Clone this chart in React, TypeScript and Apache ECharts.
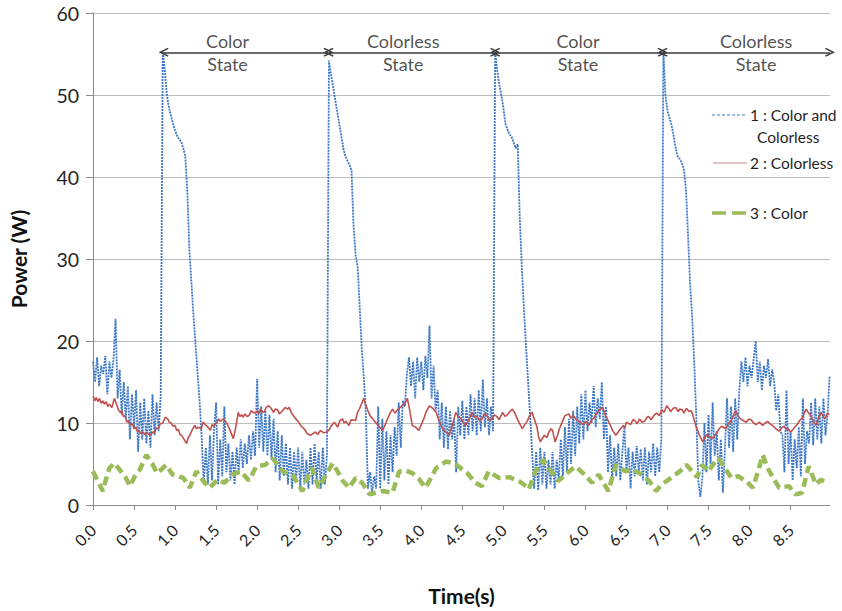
import React, { useEffect, useRef } from "react";
import * as echarts from "echarts";

// Sampling step (s) of series 1
const timeStep = 0.025;

// 1 : Color and Colorless (W), one value every timeStep seconds from t = 0
const colorAndColorless = [
  17.5, 15, 18, 14.5, 17, 16, 18.2, 13.5, 17.5, 15.5,
  17.8, 22.7, 13, 16.5, 11, 15, 10.5, 14.5, 8, 13.5,
  9.5, 14, 6.5, 12.5, 8, 13, 7.5, 11.5, 7, 13.5,
  8.5, 12.5, 9, 13.3, 55.3, 53, 50, 48.5, 47.5, 46.5,
  45.7, 45, 44.6, 44.3, 43.5, 42.5, 38, 31, 27, 23,
  19.5, 16, 12.5, 8, 2.5, 7, 2.5, 8.5, 3, 9,
  12.5, 2.5, 8, 3.5, 12, 4, 7.5, 3, 6.5, 2.5,
  7, 4, 8, 4.5, 7.5, 5, 8.5, 5.5, 9, 6,
  15.4, 7, 12, 6.5, 11.5, 6, 11, 5.5, 10.5, 4,
  9, 3, 8.5, 3.5, 7.5, 2.5, 7, 2, 6.5, 3,
  7, 2, 6.5, 2.5, 5.5, 2, 7, 2.5, 7.5, 3,
  6.5, 2, 7, 2.5, 6, 54.2, 52.5, 51, 49.5, 48,
  46.5, 45, 43.5, 42.5, 42, 41.5, 40.8, 34, 30.5, 29,
  24, 19, 15.5, 11, 2, 4, 1.5, 3.5, 2, 12,
  2, 10.5, 3, 9, 2.5, 8.5, 4, 9.5, 6, 12.5,
  7, 12.7, 12, 16, 18, 14.5, 17.5, 13, 18, 15,
  17.5, 14, 18.2, 15.5, 21.9, 13, 17, 11.5, 14, 8,
  12.5, 7, 12, 6.8, 11.5, 8, 10.5, 4, 12, 8.5,
  12.7, 8, 12, 8.5, 13.5, 9, 13, 8.5, 14, 9,
  15.3, 9.5, 13, 8.5, 12, 9, 55.3, 53, 51.3, 50,
  48.5, 46.5, 45.8, 45.2, 44.9, 44.2, 43.5, 44, 35, 29,
  24, 19.5, 15.3, 11, 6.5, 2, 6.5, 1.8, 7, 2.5,
  6.5, 2, 5.5, 2.5, 6.5, 2, 5.5, 3, 8, 3.5,
  9.5, 4, 10.5, 5, 11.5, 6, 12, 7.5, 13.5, 8,
  14, 9, 12.5, 10, 14.5, 9.5, 13, 10.5, 15, 8,
  12, 4, 8.5, 3, 7, 3.5, 7.5, 3, 6.5, 9.5,
  4, 7, 2, 6.5, 3.5, 7.2, 4, 6.8, 3, 7,
  2.5, 6.5, 4, 7.5, 3.5, 7, 4, 8, 55.3, 50,
  48, 47.2, 46.3, 45, 43.5, 42.5, 42.2, 41.7, 40.9, 38.5,
  33, 27, 23, 17.5, 11, 3, 1, 3.3, 10, 4,
  11, 5, 12.5, 6, 9, 3, 8, 1.5, 7, 13,
  7, 12, 6.5, 13, 8, 14, 17.5, 15, 18, 14.5,
  17, 15.5, 17.8, 20, 15, 17.5, 14, 17, 15.5, 17.8,
  14.5, 16.5, 15, 11.5, 13.5, 9, 8.5, 4, 14, 5,
  9, 3, 8, 4.5, 9.5, 3.5, 13, 5, 9, 7.5,
  12.5, 7.3, 13, 8, 12, 7.5, 13, 8.5, 11, 15.7,
];

// 2 : Colorless  [time (s), power (W)]
const colorless: [number, number][] = [
  [0.0, 13.3], [0.02, 12.7], [0.04, 13.1], [0.06, 12.6], [0.08, 13], [0.1, 12.4], [0.12, 12.7], [0.14, 12.3],
  [0.16, 12.6], [0.18, 12], [0.2, 12.3], [0.23, 11.9], [0.26, 13], [0.29, 12.2], [0.31, 11.6], [0.33, 11.3],
  [0.35, 11.5], [0.37, 10.8], [0.39, 10.9], [0.41, 10.1], [0.43, 10.3], [0.45, 9.8], [0.48, 9.9], [0.5, 9.3],
  [0.52, 9.5], [0.54, 9], [0.56, 9.1], [0.58, 8.7], [0.61, 8.9], [0.63, 8.6], [0.66, 8.8], [0.7, 8.5],
  [0.73, 8.9], [0.75, 8.8], [0.77, 9.4], [0.79, 9.3], [0.82, 9.9], [0.85, 10], [0.88, 10.7], [0.91, 10.5],
  [0.93, 10.1], [0.95, 10], [0.98, 9.6], [1.0, 9.7], [1.02, 9.1], [1.04, 9.2], [1.06, 8.6], [1.08, 8.5],
  [1.11, 8], [1.14, 7.5], [1.16, 8.2], [1.18, 8.5], [1.21, 9.2], [1.24, 9.7], [1.26, 9.3], [1.28, 9.5],
  [1.32, 9.3], [1.34, 10.1], [1.36, 9.9], [1.4, 9.5], [1.43, 9.1], [1.45, 9.8], [1.47, 9.6], [1.51, 10.1],
  [1.53, 10.5], [1.55, 10.2], [1.59, 10.5], [1.61, 10.2], [1.63, 10], [1.67, 9.1], [1.71, 8.1], [1.74, 9.5],
  [1.77, 11.3], [1.79, 10.8], [1.81, 11], [1.83, 10.7], [1.85, 11.1], [1.88, 10.8], [1.9, 10.9], [1.93, 11.5],
  [1.95, 11.3], [1.98, 11.2], [2.0, 11.5], [2.02, 11.1], [2.04, 11.7], [2.07, 11.3], [2.09, 11.4], [2.11, 11.9],
  [2.14, 12.1], [2.17, 11.8], [2.2, 11.3], [2.22, 11.7], [2.25, 11.6], [2.27, 11.1], [2.3, 11.4], [2.34, 11.9],
  [2.37, 11.7], [2.39, 11.9], [2.42, 11.2], [2.45, 10.8], [2.47, 10.5], [2.5, 10.2], [2.53, 9.7], [2.56, 9.4],
  [2.58, 9.2], [2.61, 8.7], [2.65, 8.5], [2.68, 8.7], [2.71, 8.9], [2.74, 8.6], [2.77, 9.1], [2.81, 8.8],
  [2.85, 8.9], [2.88, 9.2], [2.9, 9.6], [2.94, 10.1], [2.96, 9.8], [2.98, 9.5], [3.01, 10.3], [3.04, 10.5],
  [3.06, 10], [3.08, 10.2], [3.12, 9.7], [3.14, 10.3], [3.16, 10.4], [3.2, 10.3], [3.22, 11.2], [3.25, 11.8],
  [3.3, 13], [3.33, 12], [3.35, 11.5], [3.38, 10.8], [3.41, 10.5], [3.44, 10.1], [3.47, 9.8], [3.5, 9.4],
  [3.53, 9.1], [3.56, 9.8], [3.58, 10.3], [3.62, 11.2], [3.65, 11.7], [3.68, 11.2], [3.7, 11.5], [3.74, 11.9],
  [3.77, 12.1], [3.8, 12.4], [3.83, 13], [3.86, 11.5], [3.89, 9.7], [3.93, 9.5], [3.97, 9.1], [4.0, 9.8],
  [4.03, 10.5], [4.06, 11.4], [4.1, 12.1], [4.14, 11.8], [4.18, 11.3], [4.22, 10.2], [4.26, 9.3], [4.3, 8.9],
  [4.34, 8.5], [4.38, 9.8], [4.42, 11.3], [4.45, 10.8], [4.48, 10.6], [4.51, 10.1], [4.54, 9.7], [4.58, 10.4],
  [4.62, 11.3], [4.65, 10.7], [4.68, 10.8], [4.71, 10.3], [4.74, 10.5], [4.77, 11.1], [4.8, 10.9], [4.83, 10.3],
  [4.86, 10.5], [4.89, 11], [4.92, 10.8], [4.95, 10.4], [4.99, 11.3], [5.02, 10.8], [5.05, 11], [5.08, 11.4],
  [5.11, 11.7], [5.14, 11.2], [5.17, 10.5], [5.2, 9.9], [5.23, 9.3], [5.26, 9.8], [5.29, 10.2], [5.32, 10.9],
  [5.35, 11.3], [5.38, 10.4], [5.41, 9.5], [5.43, 8.3], [5.45, 7.7], [5.48, 8.2], [5.5, 8.5], [5.53, 8.2],
  [5.55, 8.8], [5.58, 9.3], [5.6, 9.1], [5.63, 7.7], [5.66, 8.5], [5.68, 9.2], [5.72, 10.2], [5.75, 10.9],
  [5.8, 11.1], [5.82, 10.6], [5.85, 10.9], [5.89, 10.4], [5.92, 10.2], [5.97, 9.8], [6.01, 10.2], [6.04, 9.7],
  [6.07, 10.3], [6.1, 10.6], [6.13, 11], [6.16, 11.5], [6.21, 11.9], [6.23, 11.3], [6.25, 10.8], [6.29, 10],
  [6.31, 9.6], [6.33, 9.1], [6.37, 8.5], [6.4, 8.9], [6.42, 9.2], [6.46, 9.7], [6.48, 9.4], [6.5, 10.1],
  [6.55, 9.8], [6.58, 10.4], [6.6, 10.3], [6.63, 9.9], [6.66, 10.5], [6.69, 10.1], [6.72, 10.2], [6.75, 10.7],
  [6.77, 10.8], [6.8, 10.4], [6.82, 10.7], [6.85, 11.1], [6.87, 11.2], [6.9, 10.9], [6.93, 11.6], [6.96, 11.3],
  [6.99, 12.1], [7.02, 11.7], [7.04, 11.4], [7.07, 11.8], [7.1, 11.9], [7.13, 11.4], [7.15, 11.7], [7.18, 11.6],
  [7.2, 11.2], [7.23, 11.8], [7.26, 11.4], [7.29, 11.5], [7.31, 10.9], [7.35, 9.5], [7.39, 8.5], [7.43, 7.7],
  [7.46, 8.3], [7.48, 8.6], [7.51, 8.3], [7.55, 8.1], [7.58, 8.5], [7.6, 8.8], [7.63, 9.3], [7.66, 9.6],
  [7.71, 9.3], [7.74, 9.9], [7.77, 10.2], [7.8, 10.8], [7.83, 11.5], [7.86, 10.9], [7.88, 10.6], [7.92, 10.3],
  [7.96, 10.1], [7.99, 10.5], [8.02, 10.4], [8.05, 10], [8.08, 9.8], [8.12, 10.1], [8.16, 9.7], [8.19, 10],
  [8.22, 10.2], [8.25, 9.9], [8.28, 9.7], [8.32, 9.3], [8.36, 9.0], [8.39, 9.4], [8.42, 9.6], [8.45, 9.2],
  [8.47, 9.3], [8.5, 8.9], [8.52, 9.1], [8.55, 9.5], [8.58, 9.8], [8.61, 10.3], [8.64, 10.6], [8.67, 11.3],
  [8.69, 11.7], [8.72, 11.2], [8.74, 11], [8.76, 10.6], [8.78, 10.2], [8.81, 9.7], [8.84, 10.6], [8.87, 11.3],
  [8.9, 10.8], [8.92, 10.5], [8.95, 11.2], [8.97, 11],
];

// 3 : Color  [time (s), power (W)]
const color: [number, number][] = [
  [0.0, 4.1], [0.06, 2.9], [0.12, 1.7], [0.16, 3.2], [0.2, 4.5], [0.26, 5.1], [0.3, 4.6], [0.34, 4.1],
  [0.4, 3.3], [0.45, 2.3], [0.51, 3.5], [0.57, 4.3], [0.65, 6.1], [0.72, 5.1], [0.78, 3.9], [0.84, 4.4],
  [0.89, 4.9], [0.97, 3.7], [1.04, 3.5], [1.1, 3.3], [1.18, 2.1], [1.26, 4.1], [1.34, 3.0], [1.42, 2.1],
  [1.52, 3.1], [1.6, 2.7], [1.7, 3.7], [1.8, 4.1], [1.9, 3.0], [1.99, 4.7], [2.1, 4.9], [2.19, 5.7],
  [2.25, 4.9], [2.31, 4.1], [2.43, 3.7], [2.55, 1.7], [2.61, 3.2], [2.67, 4.5], [2.75, 2.1], [2.83, 3.5],
  [2.92, 5.1], [2.98, 4.1], [3.04, 3.0], [3.12, 2.1], [3.2, 3.3], [3.28, 2.7], [3.37, 1.3], [3.45, 1.5],
  [3.53, 1.7], [3.65, 1.5], [3.73, 4.1], [3.81, 4.2], [3.89, 3.9], [3.97, 3.2], [4.05, 2.1], [4.12, 3.3],
  [4.18, 4.5], [4.3, 5.3], [4.4, 5.1], [4.48, 4.5], [4.56, 3.9], [4.66, 2.7], [4.74, 2.3], [4.82, 4.1],
  [4.88, 3.7], [4.95, 3.3], [5.07, 3.4], [5.19, 2.9], [5.25, 2.5], [5.31, 1.9], [5.39, 4.1], [5.49, 5.5],
  [5.58, 4.1], [5.67, 2.9], [5.75, 3.7], [5.88, 4.7], [5.98, 3.8], [6.08, 2.7], [6.16, 3.7], [6.22, 2.7],
  [6.28, 1.7], [6.37, 4.9], [6.49, 4.1], [6.58, 4.3], [6.69, 3.7], [6.78, 2.9], [6.86, 1.7], [6.93, 2.5],
  [7.0, 3.0], [7.08, 3.6], [7.15, 4.1], [7.23, 4.9], [7.3, 4.1], [7.36, 3.4], [7.42, 4.9], [7.5, 4.1],
  [7.56, 5.0], [7.62, 5.7], [7.7, 4.5], [7.78, 3.3], [7.86, 3.5], [7.96, 2.9], [8.04, 2.1], [8.1, 4.0],
  [8.16, 6.1], [8.22, 4.5], [8.3, 3.1], [8.36, 2.1], [8.48, 2.3], [8.56, 1.3], [8.64, 1.5], [8.72, 4.7],
  [8.81, 2.5], [8.87, 3.1], [8.95, 2.6],
];

// State annotations
const stateBoundaries = [0.86, 2.87, 4.9, 6.94, 8.98];
const arrowLevel = 55.2;
const stateLabels = ["Color\nState", "Colorless\nState", "Color\nState", "Colorless\nState"];
const stateLabelTimes = [1.64, 3.78, 5.91, 8.08];

const seriesNames = ["1 : Color and Colorless", "2 : Colorless", "3 : Color"];
const FONT = "Lato, 'Open Sans', sans-serif";

const chevron = "path://M5,0L10,9L8.6,9.8L5,3.2L1.4,9.8L0,9Z";

export default function App() {
  const ref = useRef<HTMLDivElement>(null);
  useEffect(() => {
    if (!ref.current) return;
    const chart = echarts.init(ref.current, null, { renderer: "svg" });
    const blueData = colorAndColorless.map((v, i) => [+(i * timeStep).toFixed(3), v]);
    const arrows = [];
    for (let i = 0; i < stateBoundaries.length - 1; i++) {
      arrows.push([
        { coord: [stateBoundaries[i], arrowLevel] },
        { coord: [stateBoundaries[i + 1], arrowLevel] },
      ]);
    }
    const legendText = { fill: "#1f1f1f", font: `15.5px ${FONT}`, verticalAlign: "middle" };
    chart.setOption({
      animation: false,
      textStyle: { fontFamily: FONT },
      grid: { left: 89, right: 12, top: 13, bottom: 97 },
      xAxis: {
        type: "value",
        min: 0,
        max: 8.98,
        interval: 0.5,
        name: "Time(s)",
        nameLocation: "middle",
        nameGap: 80,
        nameTextStyle: { fontSize: 21, fontWeight: "bold", color: "#111", fontFamily: FONT },
        axisLine: { lineStyle: { color: "#8c8c8c", width: 1 } },
        axisTick: { show: true, length: 5, lineStyle: { color: "#8c8c8c" } },
        axisLabel: {
          rotate: 45,
          fontSize: 16,
          color: "#262626",
          margin: 22,
          fontFamily: FONT,
          showMaxLabel: false,
          formatter: (v: number) => (v > 8.9 ? "" : v.toFixed(1)),
        },
        splitLine: { show: false },
      },
      yAxis: {
        type: "value",
        min: 0,
        max: 60,
        interval: 10,
        name: "Power (W)",
        nameLocation: "middle",
        nameRotate: 90,
        nameGap: 64,
        nameTextStyle: { fontSize: 21, fontWeight: "bold", color: "#111", fontFamily: FONT },
        axisLine: { show: true, lineStyle: { color: "#8c8c8c" } },
        axisTick: { show: true, length: 7, lineStyle: { color: "#8c8c8c" } },
        axisLabel: { fontSize: 19.5, color: "#262626", margin: 14, fontFamily: FONT },
        splitLine: { show: true, lineStyle: { color: "#bdbdbd", width: 1 } },
      },
      series: [
        {
          name: seriesNames[0],
          type: "line",
          data: blueData,
          symbol: "none",
          lineStyle: { color: "#3b77c6", width: 1.8, type: [2, 1] },
          z: 2,
        },
        {
          name: seriesNames[1],
          type: "line",
          data: colorless,
          symbol: "none",
          lineStyle: { color: "#c0504d", width: 1.6 },
          z: 3,
        },
        {
          name: seriesNames[2],
          type: "line",
          data: color,
          symbol: "none",
          lineStyle: { color: "#9bbb59", width: 4.5, type: [9, 5] },
          z: 4,
        },
        {
          name: "states",
          type: "scatter",
          symbolSize: 0,
          data: stateLabelTimes.map((t, i) => ({ value: [t, arrowLevel], name: stateLabels[i] })),
          label: {
            show: true,
            position: "inside",
            formatter: "{b}",
            fontSize: 18,
            lineHeight: 23,
            color: "#1f1f1f",
            fontFamily: FONT,
            align: "center",
            verticalAlign: "middle",
          },
          markLine: {
            silent: true,
            symbol: [chevron, chevron],
            symbolSize: [9, 10],
            label: { show: false },
            lineStyle: { color: "#3a3a3a", width: 1.6, type: "solid" },
            itemStyle: { color: "#3a3a3a" },
            data: arrows,
          },
          z: 5,
        },
      ],
      graphic: [
        { type: "line", shape: { x1: 712, y1: 115, x2: 747, y2: 115 }, style: { stroke: "#3b77c6", lineWidth: 1.2, lineDash: [3, 2] } },
        { type: "text", x: 750, y: 115, style: { ...legendText, text: "1 : Color and" } },
        { type: "text", x: 757, y: 137, style: { ...legendText, text: "Colorless" } },
        { type: "line", shape: { x1: 713, y1: 163, x2: 747, y2: 163 }, style: { stroke: "#c98886", lineWidth: 1.2 } },
        { type: "text", x: 750, y: 163, style: { ...legendText, text: "2 : Colorless" } },
        { type: "line", shape: { x1: 712, y1: 213, x2: 746, y2: 213 }, style: { stroke: "#9bbb59", lineWidth: 3.5, lineDash: [14, 6] } },
        { type: "text", x: 750, y: 213, style: { ...legendText, text: "3 : Color" } },
      ],
    });
    return () => chart.dispose();
  }, []);
  return (
    <div
      ref={ref}
      style={{ position: "fixed", left: 0, top: 0, width: 842, height: 611, background: "#fff" }}
    />
  );
}
